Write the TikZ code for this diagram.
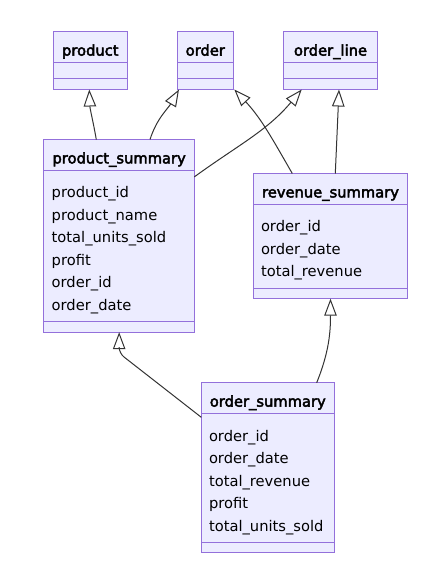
\documentclass[tikz,border=0pt]{standalone}
\usepackage{fontspec}
\setmainfont{DejaVu Sans}[BoldFont=DejaVu Sans, BoldFeatures={FakeBold=3}]
\usepackage{xcolor}
\usepackage{tikz}
\usetikzlibrary{positioning,shapes.multipart,arrows.meta}

\definecolor{classfill}{HTML}{ECECFF}
\definecolor{classline}{HTML}{9370DB}
\definecolor{edgegray}{HTML}{333333}

\newcommand{\headstrut}{\rule[-6.4pt]{0pt}{29.8pt}}
\newcommand{\firstrow}{\rule{0pt}{27pt}}
\newcommand{\lastrow}{\rule[-10.8pt]{0pt}{10.8pt}}
\newcommand{\nofields}{\rule{0pt}{15.4pt}}
\newcommand{\nomethods}{\rule{0pt}{9.6pt}}

\begin{document}
\begin{tikzpicture}[
    node distance=50pt,
    every node/.style={rectangle split, rectangle split parts=3, draw=classline, fill=classfill,
        line width=1pt, inner xsep=7.7pt, inner ysep=0pt, outer sep=0pt, align=left,
        rectangle split part align={center,left,left}, font=\fontsize{14.7}{22.5}\selectfont},
    extends/.style={draw=edgegray, line width=1pt, -{Triangle[open, length=17pt, width=12.5pt]}}
]
    % Classes
    \node[minimum width=74pt] (product) {\headstrut\textbf{product}\nodepart{two}\nofields\nodepart{three}\nomethods};
    \node[minimum width=56pt, right=of product] (order) {\headstrut\textbf{order}\nodepart{two}\nofields\nodepart{three}\nomethods};
    \node[minimum width=93.6pt, right=50.4pt of order] (orderline) {\headstrut\textbf{order\_line}\nodepart{two}\nofields\nodepart{three}\nomethods};
    \node[minimum width=150.3pt, below=of product, xshift=28.85pt] (psummary) {\headstrut\textbf{product\_summary}
        \nodepart{two}\firstrow product\_id\\ product\_name\\ total\_units\_sold\\ profit\\ order\_id\\ order\_date\lastrow
        \nodepart{three}\nomethods};
    \node[minimum width=154.4pt, below=84pt of orderline] (rsummary) {\headstrut\textbf{revenue\_summary}
        \nodepart{two}\firstrow order\_id\\ order\_date\\ total\_revenue\lastrow
        \nodepart{three}\nomethods};
    \node[minimum width=133pt, below=84pt of rsummary, xshift=-62.7pt] (osummary) {\headstrut\textbf{order\_summary}
        \nodepart{two}\firstrow order\_id\\ order\_date\\ total\_revenue\\ profit\\ total\_units\_sold\lastrow
        \nodepart{three}\nomethods};

    % Inheritance
    \draw[extends] ([xshift=52.3pt]psummary.north west) to[out=100, in=-88] ([xshift=-1pt]product.south);
    \draw[extends] ([xshift=106pt]psummary.north west) to[out=72, in=-120] ([xshift=1.7pt]order.south west);
    \draw[extends] ([yshift=-37.4pt]psummary.north east) to[out=36, in=-130] ([xshift=18pt]orderline.south west);
    \draw[extends] ([xshift=39pt]rsummary.north west) to[out=120, in=-47] ([xshift=1pt]order.south east);
    \draw[extends] ([xshift=4.8pt]rsummary.north) -- ([xshift=8.5pt]orderline.south);
    \draw[extends, rounded corners=6pt] ([yshift=-34.6pt]osummary.north west) -- ([yshift=-21pt]psummary.south) -- (psummary.south);
    \draw[extends] ([xshift=48.9pt]osummary.north) to[out=68, in=-90] (rsummary.south);

    \useasboundingbox ([shift={(-53.3pt,31.7pt)}]product.north west) rectangle ++(430pt,-575pt);
\end{tikzpicture}
\end{document}
